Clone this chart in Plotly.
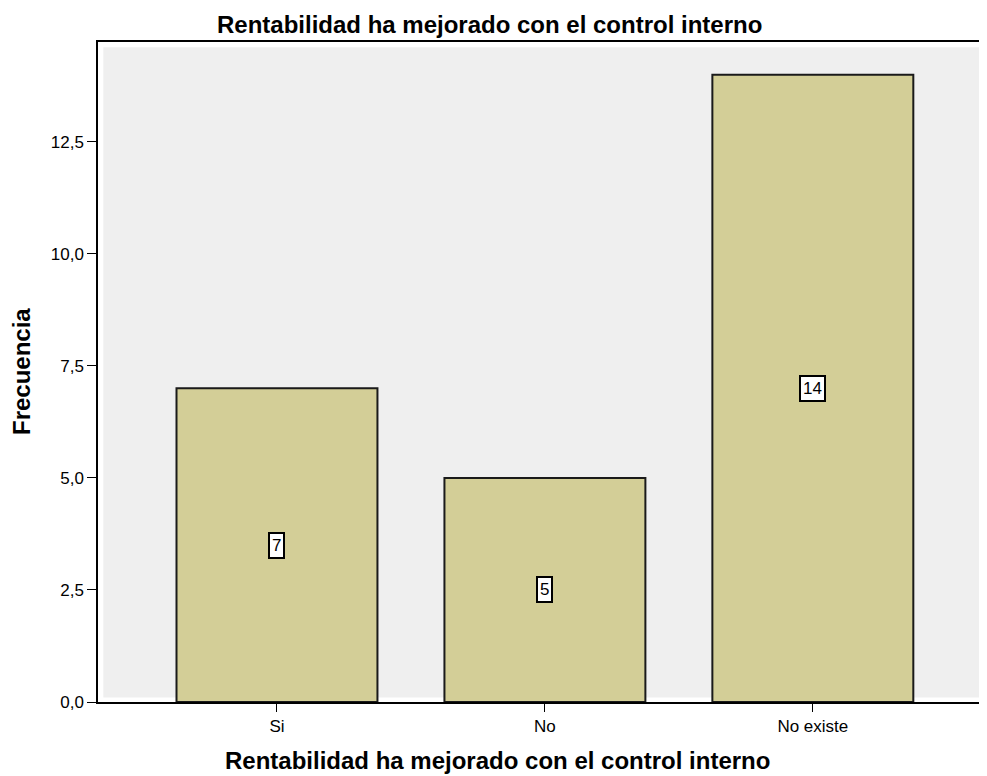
import plotly.graph_objects as go

categorias = ["Si", "No", "No existe"]
frecuencias = [7, 5, 14]
titulo = "Rentabilidad ha mejorado con el control interno"

fig = go.Figure()
fig.add_trace(go.Bar(
    x=categorias, y=frecuencias, width=0.75,
    marker=dict(color="#d3ce97", line=dict(color="#1a1a1a", width=2)),
    hoverinfo="x+y",
))

# etiquetas de valor en el centro de cada barra
for cat, val in zip(categorias, frecuencias):
    fig.add_annotation(x=cat, y=val / 2, text=str(val), showarrow=False,
                       font=dict(size=17, color="black", family="Liberation Sans, Arial"),
                       bgcolor="white", bordercolor="black", borderwidth=2, borderpad=2)

# titulos de ejes centrados como en el original
fig.add_annotation(xref="paper", yref="paper", x=0.449, y=-0.089, text="<b>" + titulo + "</b>",
                   showarrow=False, font=dict(size=24), xanchor="center", yanchor="middle")
fig.add_annotation(xref="paper", yref="paper", x=-0.0866, y=0.5, text="<b>Frecuencia</b>",
                   showarrow=False, font=dict(size=24), textangle=-90,
                   xanchor="center", yanchor="middle")

# fondo gris interior con margen blanco
fig.add_shape(type="rect", xref="x domain", yref="y domain", x0=0.006, x1=1.0,
              y0=0.007, y1=0.992, fillcolor="#efefef", line=dict(width=0), layer="below")

fig.update_layout(
    width=987, height=776,
    margin=dict(l=90, r=8, t=34, b=82),
    paper_bgcolor="white", plot_bgcolor="white",
    separators=",.",
    font=dict(family="Liberation Sans, Arial", color="black"),
    title=dict(text="<b>" + titulo + "</b>", x=0.488, xanchor="center", y=0.99, yanchor="top",
               font=dict(size=24)),
    showlegend=False,
    xaxis=dict(range=[-0.668, 2.65], showline=True, linecolor="black", linewidth=1.5, mirror=True,
               ticks="outside", ticklen=8, tickcolor="black", tickfont=dict(size=17),
               showgrid=False, zeroline=False),
    yaxis=dict(range=[0, 14.73], showline=True, linecolor="black", linewidth=1.5,
               ticks="outside", ticklen=9, tickcolor="black", tickfont=dict(size=17),
               tickvals=[0, 2.5, 5, 7.5, 10, 12.5], tickformat=".1f",
               showgrid=False, zeroline=False),
)

fig.write_html("out.html")
